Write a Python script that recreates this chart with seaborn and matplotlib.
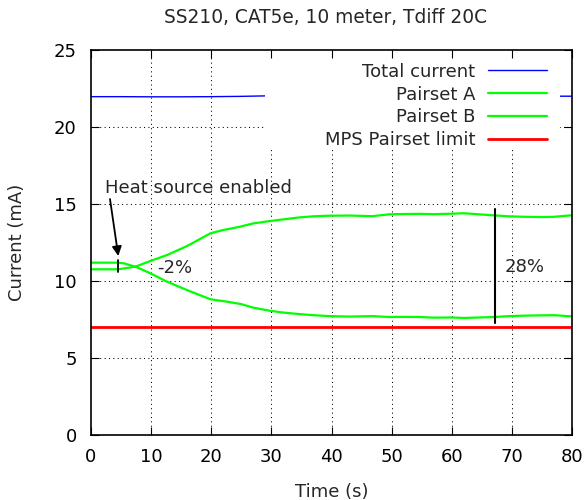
import matplotlib.pyplot as plt
import seaborn as sns
from matplotlib.patches import Rectangle

# values (time in s, current in mA)
total_time = [0, 5, 10, 15, 20, 25, 29, 35, 45, 55, 65, 75, 80]
total_current = [21.97, 21.97, 21.96, 21.96, 21.97, 21.99, 22.02, 22.02, 22.01, 22.0, 22.0, 22.0, 22.0]

pair_a_time = [0, 4.5, 6.6, 7.7, 9.9, 12.7, 16, 19.9, 22, 24.5, 27, 29.7, 32, 34.7, 37, 39.6,
               43, 46.8, 49.6, 52, 54.6, 57, 60, 62, 64.5, 67, 69.5, 72, 75, 77, 80]
pair_a_current = [10.76, 10.76, 10.88, 10.97, 11.3, 11.69, 12.27, 13.1, 13.31, 13.5, 13.74, 13.89,
                  14.0, 14.13, 14.2, 14.24, 14.25, 14.21, 14.33, 14.35, 14.36, 14.34, 14.37, 14.4,
                  14.33, 14.26, 14.2, 14.17, 14.15, 14.17, 14.27]

pair_b_time = [0, 4.5, 5.5, 7.7, 9.9, 12.7, 16, 19.9, 22.6, 25, 27, 29.7, 32, 34.7, 37, 39.6,
               43, 46.8, 49.6, 52, 54.6, 57, 60, 62, 64.5, 67, 69.5, 72, 75, 77, 80]
pair_b_current = [11.19, 11.19, 11.15, 10.89, 10.5, 9.95, 9.41, 8.81, 8.66, 8.5, 8.27, 8.07,
                  7.95, 7.85, 7.78, 7.72, 7.69, 7.72, 7.66, 7.67, 7.66, 7.62, 7.63, 7.6,
                  7.63, 7.66, 7.72, 7.75, 7.77, 7.78, 7.7]

mps_time = [0, 80]
mps_limit = [7.0, 7.0]

x_ticks = [0, 10, 20, 30, 40, 50, 60, 70, 80]
y_ticks = [0, 5, 10, 15, 20, 25]

"Стиль"
sns.set_style("white")
plt.rcParams["font.family"] = ["DejaVu Sans"]
plt.rcParams["font.size"] = 13

fig = plt.figure(figsize=(5.88, 5.0), dpi=100)
ax = fig.add_axes([0.1543, 0.13, 0.819, 0.77])

"Сетка (пунктир под линиями)"
for t in x_ticks[1:-1]:
    ax.axvline(t, color="black", lw=0.75, ls=(0, (1, 3.2)), zorder=0.6)
for t in y_ticks[1:-1]:
    ax.axhline(t, color="black", lw=0.75, ls=(0, (1, 3.2)), zorder=0.6)

"Линии"
sns.lineplot(x=total_time, y=total_current, color="#0000ff", linewidth=1.0,
             label="Total current", ax=ax, zorder=1.2)
sns.lineplot(x=pair_a_time, y=pair_a_current, color="#00ff00", linewidth=1.6,
             label="Pairset A", ax=ax, zorder=1.2)
sns.lineplot(x=pair_b_time, y=pair_b_current, color="#00ff00", linewidth=1.6,
             label="Pairset B", ax=ax, zorder=1.2)
sns.lineplot(x=mps_time, y=mps_limit, color="#ff0000", linewidth=2.0,
             label="MPS Pairset limit", ax=ax, zorder=1.2)

"Белая подложка легенды"
ax.add_patch(Rectangle((0.362, 0.745), 0.6125, 0.255, transform=ax.transAxes,
                       facecolor="white", edgecolor="none", zorder=1.5))
handles, labels = ax.get_legend_handles_labels()
ax.legend(handles, labels, loc="upper right", bbox_to_anchor=(0.9745, 1.0),
          borderaxespad=0, markerfirst=False, frameon=False, handlelength=3.3,
          handletextpad=0.68, labelspacing=0.27, borderpad=0.7, fontsize=13)

"Подписи"
ax.annotate("", xy=(4.58, 11.62), xytext=(3.2, 15.32),
            arrowprops={"arrowstyle": "-|>", "color": "black", "lw": 1.3,
                        "mutation_scale": 14, "shrinkA": 0, "shrinkB": 0})
ax.text(2.4, 16.04, "Heat source enabled", ha="left", va="center", fontsize=13)
ax.plot([4.58, 4.58], [10.56, 11.36], color="black", lw=1.3, zorder=3)
ax.text(11.06, 10.86, "-2%", ha="left", va="center", fontsize=13)
ax.plot([67.16, 67.16], [7.25, 14.65], color="black", lw=1.5, zorder=3)
ax.text(68.7, 10.89, "28%", ha="left", va="center", fontsize=13)

"Оси"
ax.set_xlim(0, 80)
ax.set_ylim(0, 25)
ax.set_xticks(x_ticks)
ax.set_yticks(y_ticks)
ax.set_axisbelow(False)
ax.tick_params(direction="in", top=True, right=True, bottom=True, left=True,
               length=5.8, width=0.8, colors="black", labelsize=13)
ax.tick_params(axis="y", pad=10)
ax.tick_params(axis="x", pad=9.5)
for spine in ax.spines.values():
    spine.set_color("black")
    spine.set_linewidth(1.2)

ax.set_xlabel("Time (s)", fontsize=13)
ax.set_ylabel("Current (mA)", fontsize=13)
ax.xaxis.set_label_coords(0.5, -0.148)
ax.xaxis.label.set_va("center")
ax.yaxis.set_label_coords(-0.1537, 0.5)
ax.yaxis.label.set_va("center")
ax.set_title("SS210, CAT5e, 10 meter, Tdiff 20C", fontsize=13.4,
             x=0.4875, y=1.0844, va="center", pad=0)

fig.savefig("out.png", dpi=100)
plt.close()
